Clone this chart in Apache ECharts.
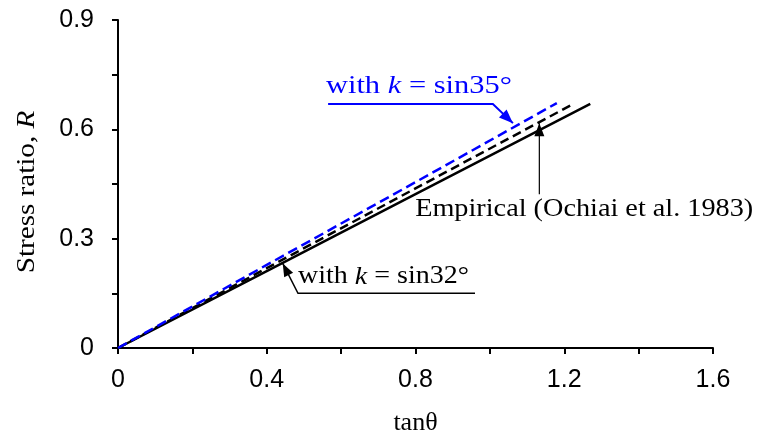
<!DOCTYPE html>
<html>
<head>
<meta charset="utf-8">
<script src="https://cdn.jsdelivr.net/npm/echarts@6/dist/echarts.min.js"></script>
<style>
  html, body { margin: 0; padding: 0; background: #fff; }
  #chart { width: 769px; height: 441px; }
</style>
</head>
<body>
<div id="chart"></div>
<script>
// Stress ratio R versus tanθ
const xTicks = [0, 0.4, 0.8, 1.2, 1.6];
const yTicks = [0, 0.3, 0.6, 0.9];

// with k = sin32° (solid black)
const sin32X = [0, 0.4, 0.8, 1.27];
const sin32R = [0, 0.211, 0.422, 0.670];
// Empirical, Ochiai et al. 1983 (dashed black)
const empX = [0, 0.4, 0.8, 1.225];
const empR = [0, 0.219, 0.438, 0.670];
// with k = sin35° (dashed blue)
const sin35X = [0, 0.4, 0.8, 1.18];
const sin35R = [0, 0.228, 0.455, 0.672];

const pairs = (xs, ys) => xs.map((x, i) => [x, ys[i]]);

const serif = '"Liberation Serif", "Times New Roman", serif';
const sans = '"Liberation Sans", Arial, sans-serif';

const chart = echarts.init(document.getElementById('chart'), null, { renderer: 'canvas' });

const axisCommon = {
  axisLine: { show: true, onZero: false, lineStyle: { color: '#000', width: 2 } },
  axisTick: { show: true, inside: false, length: 6, lineStyle: { color: '#000', width: 2 } },
  minorTick: { show: true, splitNumber: 2, length: 6, lineStyle: { color: '#000', width: 2 } },
  splitLine: { show: false },
  axisLabel: { color: '#000', fontFamily: sans, fontSize: 25 }
};

chart.setOption({
  animation: false,
  grid: { left: 118, right: 56, top: 20, bottom: 93, containLabel: false },
  xAxis: Object.assign({}, axisCommon, {
    type: 'value', min: xTicks[0], max: xTicks[xTicks.length - 1], interval: 0.4,
    name: 'tanθ', nameLocation: 'middle', nameGap: 62,
    nameTextStyle: { color: '#000', fontFamily: serif, fontSize: 26 },
    axisLabel: Object.assign({}, axisCommon.axisLabel, { margin: 20, formatter: v => String(+v.toFixed(1)) })
  }),
  yAxis: Object.assign({}, axisCommon, {
    type: 'value', min: yTicks[0], max: yTicks[yTicks.length - 1], interval: 0.3,
    axisLabel: Object.assign({}, axisCommon.axisLabel, { margin: 24, formatter: v => String(+v.toFixed(1)) })
  }),
  series: [
    { type: 'line', data: pairs(sin32X, sin32R), showSymbol: false, lineStyle: { color: '#000', width: 2.5 } },
    { type: 'line', data: pairs(empX, empR), showSymbol: false, lineStyle: { color: '#000', width: 2.5, type: [9, 5] } },
    { type: 'line', data: pairs(sin35X, sin35R), showSymbol: false, lineStyle: { color: '#0000ff', width: 2.5, type: [10, 5] } }
  ]
});

// Annotation anchors in data units
const P = (x, y) => chart.convertToPixel({ gridIndex: 0 }, [x, y]);

function arrowHead(tip, from, color, len, half) {
  const dx = tip[0] - from[0], dy = tip[1] - from[1];
  const L = Math.hypot(dx, dy), ux = dx / L, uy = dy / L;
  const bx = tip[0] - ux * len, by = tip[1] - uy * len;
  return {
    type: 'polygon',
    shape: { points: [tip, [bx - uy * half, by + ux * half], [bx + uy * half, by - ux * half]] },
    style: { fill: color }
  };
}

function richLabel(pos, color, pre, ital, post, size, sx) {
  return {
    type: 'text', x: pos[0], y: pos[1], scaleX: sx,
    style: {
      text: `{a|${pre}}{b|${ital}}{a|${post}}`,
      verticalAlign: 'middle',
      rich: {
        a: { fill: color, fontFamily: serif, fontSize: size },
        b: { fill: color, fontFamily: serif, fontSize: size, fontStyle: 'italic' }
      }
    }
  };
}

const blueStart = P(0.565, 0.6695), blueCorner = P(1.008, 0.6695), blueTip = P(1.062, 0.617);
const empStart = P(1.133, 0.422), empTip = P(1.133, 0.617);
const k32Tip = P(0.443, 0.232), k32Corner = P(0.484, 0.150), k32End = P(0.960, 0.150);
const empText = P(0.799, 0.379);
const yName = [27, 192];

chart.setOption({
  graphic: [
    // y-axis title
    {
      type: 'text', x: yName[0], y: yName[1], rotation: Math.PI / 2, scaleX: 1.12,
      style: {
        text: '{n|Stress ratio, }{i|R}', align: 'center', verticalAlign: 'middle',
        rich: {
          n: { fill: '#000', fontFamily: serif, fontSize: 26 },
          i: { fill: '#000', fontFamily: serif, fontSize: 26, fontStyle: 'italic' }
        }
      }
    },

    { type: 'polyline', shape: { points: [blueStart, blueCorner, blueTip] }, style: { stroke: '#0000ff', lineWidth: 2, fill: null } },
    arrowHead(blueTip, blueCorner, '#0000ff', 14, 5.5),
    richLabel(P(0.559, 0.719), '#0000ff', 'with ', 'k', ' = sin35°', 25, 1.22),

    { type: 'line', shape: { x1: empStart[0], y1: empStart[1], x2: empTip[0], y2: empTip[1] }, style: { stroke: '#000', lineWidth: 1.2 } },
    arrowHead(empTip, empStart, '#000', 13, 5),
    { type: 'text', x: empText[0], y: empText[1], scaleX: 1.13,
      style: { text: 'Empirical (Ochiai et al. 1983)', fill: '#000', fontFamily: serif, fontSize: 25, align: 'left', verticalAlign: 'middle' } },

    { type: 'polyline', shape: { points: [k32Tip, k32Corner, k32End] }, style: { stroke: '#000', lineWidth: 1.5, fill: null } },
    arrowHead(k32Tip, k32Corner, '#000', 13, 5),
    richLabel(P(0.484, 0.195), '#000', 'with ', 'k', ' = sin32°', 25, 1.12)
  ]
});
</script>
</body>
</html>
